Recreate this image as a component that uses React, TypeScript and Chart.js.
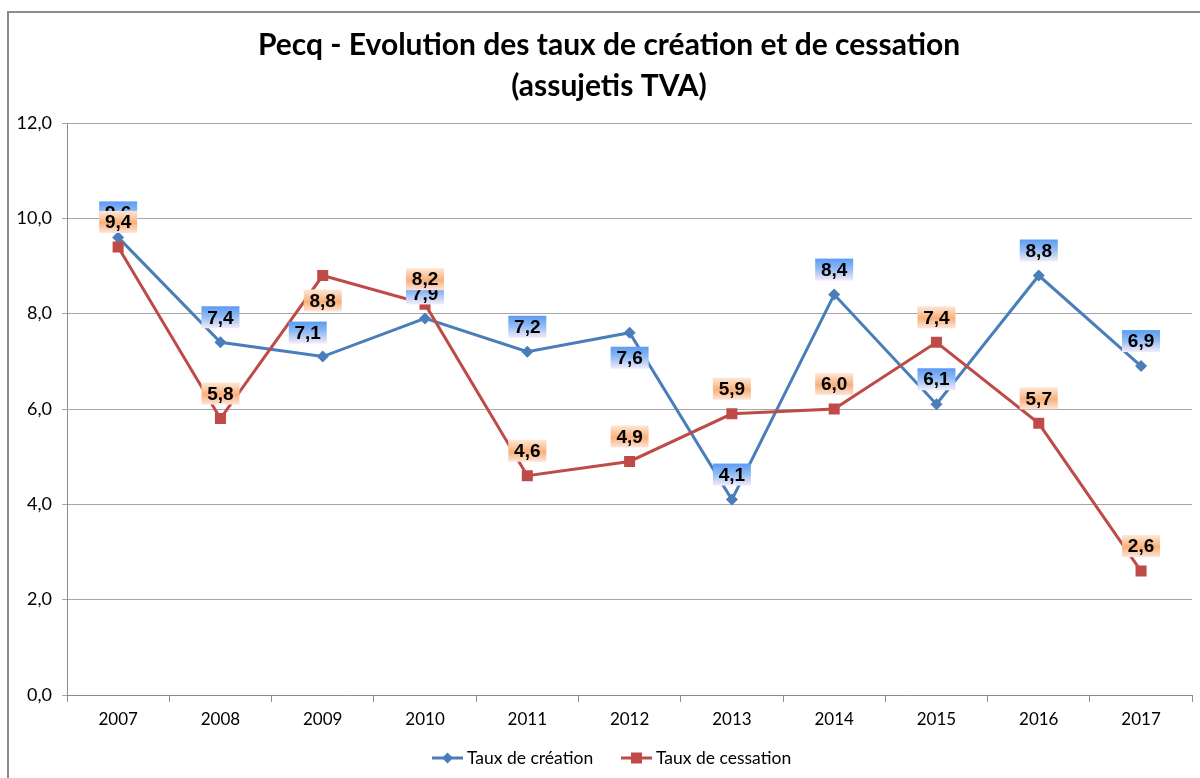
import React, { useEffect, useRef } from 'react';
import { Chart, registerables } from 'chart.js';

Chart.register(...registerables);

const categories = ['2007', '2008', '2009', '2010', '2011', '2012', '2013', '2014', '2015', '2016', '2017'];
const creationRates = [9.6, 7.4, 7.1, 7.9, 7.2, 7.6, 4.1, 8.4, 6.1, 8.8, 6.9];
const cessationRates = [9.4, 5.8, 8.8, 8.2, 4.6, 4.9, 5.9, 6.0, 7.4, 5.7, 2.6];
const yTickValues = [0, 2, 4, 6, 8, 10, 12];
const seriesNames = ['Taux de création', 'Taux de cessation'];
const titleLines = ['Pecq - Evolution des taux de création et de cessation', '(assujetis TVA)'];
const creationLabelPlacement = ['above', 'above', 'aboveLeft', 'above', 'above', 'below', 'above', 'above', 'above', 'above', 'above'];
const cessationLabelPlacement = ['above', 'above', 'below', 'above', 'above', 'above', 'above', 'above', 'above', 'above', 'above'];

const BLUE = '#4a7ebb';
const RED = '#be4b48';
const FONT = 'Lato, "Open Sans", sans-serif';

const fmt = (v: number) => v.toFixed(1).replace('.', ',');

function drawMarker(ctx: CanvasRenderingContext2D, kind: string, x: number, y: number, color: string) {
  ctx.save();
  ctx.fillStyle = color;
  if (kind === 'diamond') {
    ctx.beginPath();
    ctx.moveTo(x, y - 5.5);
    ctx.lineTo(x + 5.5, y);
    ctx.lineTo(x, y + 5.5);
    ctx.lineTo(x - 5.5, y);
    ctx.closePath();
    ctx.fill();
  } else {
    ctx.fillRect(x - 5.5, y - 5.5, 11, 11);
  }
  ctx.restore();
}

const decorPlugin = {
  id: 'decor',
  beforeDraw(chart: any) {
    const ctx = chart.ctx as CanvasRenderingContext2D;
    ctx.save();
    ctx.fillStyle = '#ffffff';
    ctx.fillRect(0, 0, chart.width, chart.height);
    ctx.strokeStyle = '#8c8c8c';
    ctx.lineWidth = 2;
    ctx.strokeRect(8, 12, 1400, 1000);
    ctx.restore();
  },
  afterDraw(chart: any) {
    const ctx = chart.ctx as CanvasRenderingContext2D;
    ctx.save();
    // title
    ctx.fillStyle = '#000';
    ctx.textAlign = 'center';
    ctx.textBaseline = 'middle';
    ctx.font = `bold 30px ${FONT}`;
    ctx.fillText(titleLines[0], 609, 45);
    ctx.fillText(titleLines[1], 609, 86);

    // data labels
    const placements = [creationLabelPlacement, cessationLabelPlacement];
    [0, 1].forEach((di) => {
      const meta = chart.getDatasetMeta(di);
      const values = chart.data.datasets[di].data as number[];
      meta.data.forEach((pt: any, i: number) => {
        const place = placements[di][i];
        let cx = pt.x;
        let cy = pt.y - 25;
        if (place === 'below') cy = pt.y + 25;
        if (place === 'aboveLeft') {
          cx = pt.x - 15;
          cy = pt.y - 24;
        }
        const w = 38;
        const h = 22;
        const x0 = cx - w / 2;
        const y0 = cy - h / 2;
        const g = ctx.createLinearGradient(0, y0, 0, y0 + h);
        if (di === 0) {
          g.addColorStop(0, '#5c9bf4');
          g.addColorStop(0.45, '#8fb9f3');
          g.addColorStop(1, '#f5ecf8');
        } else {
          g.addColorStop(0, '#fde8d6');
          g.addColorStop(0.55, '#f9b07a');
          g.addColorStop(1, '#fde5da');
        }
        ctx.fillStyle = g;
        ctx.fillRect(x0, y0, w, h);
        ctx.fillStyle = '#000';
        ctx.font = `bold 19px "Liberation Sans", Arial, sans-serif`;
        ctx.textAlign = 'center';
        ctx.textBaseline = 'middle';
        ctx.fillText(fmt(values[i]), cx, cy + 1);
      });
    });

    // legend
    const items = [
      { x: 432, color: BLUE, kind: 'diamond', text: seriesNames[0] },
      { x: 621, color: RED, kind: 'square', text: seriesNames[1] },
    ];
    const ly = 758;
    items.forEach((it) => {
      ctx.strokeStyle = it.color;
      ctx.lineWidth = 3;
      ctx.beginPath();
      ctx.moveTo(it.x, ly);
      ctx.lineTo(it.x + 31, ly);
      ctx.stroke();
      drawMarker(ctx, it.kind, it.x + 15.5, ly, it.color);
      ctx.fillStyle = '#000';
      ctx.font = `17.5px ${FONT}`;
      ctx.textAlign = 'left';
      ctx.textBaseline = 'middle';
      ctx.fillText(it.text, it.x + 35, ly);
    });
    ctx.restore();
  },
};

export default function App() {
  const canvasRef = useRef<HTMLCanvasElement | null>(null);

  useEffect(() => {
    const canvas = canvasRef.current;
    if (!canvas) return;
    const chart = new Chart(canvas, {
      type: 'line',
      data: {
        labels: categories,
        datasets: [
          {
            label: seriesNames[0],
            data: creationRates,
            borderColor: BLUE,
            backgroundColor: BLUE,
            borderWidth: 3,
            pointStyle: 'rectRot',
            pointRadius: 6,
            pointBorderWidth: 0,
            pointBackgroundColor: BLUE,
            tension: 0,
            order: 2,
          },
          {
            label: seriesNames[1],
            data: cessationRates,
            borderColor: RED,
            backgroundColor: RED,
            borderWidth: 3,
            pointStyle: 'rect',
            pointRadius: 7.8,
            pointBorderWidth: 0,
            pointBackgroundColor: RED,
            tension: 0,
            order: 1,
          },
        ],
      },
      options: {
        responsive: false,
        animation: false,
        devicePixelRatio: 1,
        layout: { padding: { top: 123, left: 8, right: 4, bottom: 778 - 695 - 30 } },
        plugins: {
          legend: { display: false },
          title: { display: false },
          tooltip: { enabled: false },
        },
        scales: {
          x: {
            type: 'category',
            offset: true,
            grid: {
              offset: true,
              drawOnChartArea: false,
              drawTicks: true,
              tickLength: 7,
              color: '#8c8c8c',
            },
            border: { color: '#8c8c8c', width: 1 },
            ticks: {
              font: { family: FONT, size: 17 },
              color: '#000',
              padding: 7,
              maxRotation: 0,
              autoSkip: false,
            },
            afterFit: (s: any) => {
              s.height = 30;
            },
          },
          y: {
            min: 0,
            max: 12,
            afterBuildTicks: (s: any) => {
              s.ticks = yTickValues.map((v) => ({ value: v }));
            },
            ticks: {
              callback: (v: any) => fmt(Number(v)),
              font: { family: FONT, size: 18 },
              color: '#000',
              padding: 10,
            },
            grid: { color: '#a6a6a6', lineWidth: 1, tickLength: 5, drawTicks: true },
            border: { color: '#8c8c8c', width: 1 },
            afterFit: (s: any) => {
              s.width = 59;
            },
          },
        },
      },
      plugins: [decorPlugin],
    });
    return () => chart.destroy();
  }, []);

  return (
    <div style={{ position: 'fixed', left: 0, top: 0, width: 1200, height: 778, background: '#fff' }}>
      <canvas ref={canvasRef} width={1200} height={778} style={{ display: 'block', width: 1200, height: 778 }} />
    </div>
  );
}
